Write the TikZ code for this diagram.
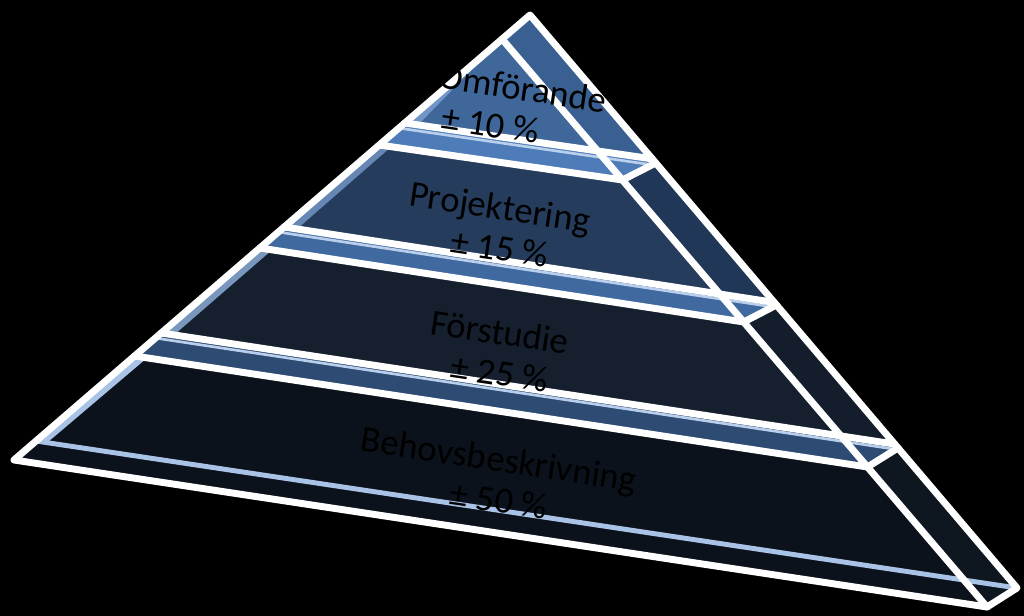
\documentclass[tikz,border=0pt]{standalone}
\usepackage{fontspec}
\setmainfont{Carlito}
\definecolor{frontA}{HTML}{3F6799}
\definecolor{sideA}{HTML}{3A6092}
\definecolor{bandA}{HTML}{4D7CB8}
\definecolor{frontB}{HTML}{253C5C}
\definecolor{sideB}{HTML}{213757}
\definecolor{bandB}{HTML}{4069A0}
\definecolor{frontC}{HTML}{151F2E}
\definecolor{sideC}{HTML}{131D2C}
\definecolor{bandC}{HTML}{2D4B73}
\definecolor{frontD}{HTML}{0C121B}
\definecolor{sideD}{HTML}{0E1620}
\definecolor{rim}{HTML}{A8C3E6}
\begin{document}
\begin{tikzpicture}[x=0.75pt,y=0.75pt,yscale=-1,xscale=1,
  edge/.style={white, line width=5.2pt, line join=round, line cap=round},
  glow/.style={rim!80!white, line width=2pt},
  tiertext/.style={black, font=\fontsize{27.5}{30.5}\selectfont, align=center, rotate=-8.5, inner sep=0pt}]

\useasboundingbox (0,0) rectangle (1024,616);
\fill[black] (0,0) rectangle (1024,616);

% top tier
\fill[frontA] (502,39) -- (404.8,123) -- (597.6,151) -- cycle;
\fill[sideA] (530,15) -- (502,39) -- (597.6,151) -- (652.4,158.9) -- cycle;
\fill[bandA] (404.8,123) -- (597.6,151) -- (652.4,158.9) -- (655.8,163) -- (622.4,180) -- (379.3,145) -- cycle;

% second tier
\fill[frontB] (379.3,145) -- (622.4,180) -- (719.8,294) -- (284.2,227) -- cycle;
\fill[sideB] (622.4,180) -- (655.8,163) -- (774.2,302.4) -- (719.8,294) -- cycle;
\fill[bandB] (284.2,227) -- (719.8,294) -- (774.2,302.4) -- (776.5,305) -- (743.7,322) -- (259.8,248) -- cycle;

% third tier
\fill[frontC] (259.8,248) -- (743.7,322) -- (841,436) -- (161.2,333) -- cycle;
\fill[sideC] (743.7,322) -- (776.5,305) -- (894.7,444.1) -- (841,436) -- cycle;
\fill[bandC] (161.2,333) -- (841,436) -- (894.7,444.1) -- (898,448) -- (867.5,467) -- (134.6,356) -- cycle;

% bottom tier
\fill[frontD] (134.6,356) -- (867.5,467) -- (987,607) -- (14,460) -- cycle;
\fill[sideD] (867.5,467) -- (898,448) -- (1017,588) -- (987,607) -- cycle;

% left rims and glows under the joints
\begin{scope}
\clip (530,15) -- (14,460) -- (987,607) -- (1017,588) -- cycle;
\fill[bandA!80!white] (502,39) -- (418,125) -- (404.8,123) -- cycle;
\fill[bandB!80!white] (379.3,145) -- (391,147) -- (297,229) -- (284.2,227) -- cycle;
\fill[bandB!70!white] (259.8,248) -- (272,250) -- (174,335) -- (161.2,333) -- cycle;
\fill[rim] (134.6,356) -- (147,358) -- (48,442) -- (36,441) -- cycle;
\draw[rim, line width=3.7pt] (36,441) -- (1017,588);
\draw[glow] (398,128) -- (660,166);
\draw[glow] (278,232) -- (780,308);
\draw[glow] (155,338) -- (900,450);
\end{scope}

% edges
\draw[edge] (530,15) -- (14,460) -- (987,607) -- (1017,588) -- cycle;
\draw[edge] (502,39) -- (987,607);
\draw[edge] (404.8,123) -- (652.4,158.9);
\draw[edge] (379.3,145) -- (622.4,180) -- (655.8,163);
\draw[edge] (284.2,227) -- (774.2,302.4);
\draw[edge] (259.8,248) -- (743.7,322) -- (776.5,305);
\draw[edge] (161.2,333) -- (894.7,444.1);
\draw[edge] (134.6,356) -- (867.5,467) -- (898,448);

% labels
\node[tiertext] (omf) at (520,108) {Omförande\\± 10 \%\hspace*{40pt}};
\node[tiertext] (proj) at (497,227) {Projektering\\\hspace*{9pt}± 15 \%};
\node[tiertext] (forst) at (497,352) {Förstudie\\\hspace*{9pt}± 25 \%};
\node[tiertext] (behov) at (496,479) {Behovsbeskrivning\\\hspace*{9pt}± 50 \%};
\end{tikzpicture}
\end{document}
